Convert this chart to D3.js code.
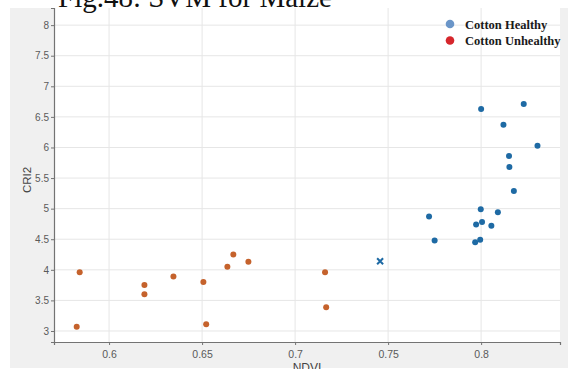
<!DOCTYPE html>
<html>
<head>
<meta charset="utf-8">
<script src="https://cdn.jsdelivr.net/npm/d3@7"></script>
<style>
  html, body { margin: 0; padding: 0; background: #ffffff; }
  svg { display: block; }
</style>
</head>
<body>
<svg id="chart" width="568" height="369"></svg>
<script>
// Cotton samples: NDVI vs CRI2
const healthyNDVI = [0.772, 0.775, 0.7968, 0.7973, 0.7995, 0.7998, 0.8, 0.8005, 0.8055, 0.809, 0.812, 0.815, 0.8152, 0.8176, 0.8229, 0.8303];
const healthyCRI2 = [4.87, 4.48, 4.45, 4.74, 4.49, 4.99, 6.63, 4.78, 4.72, 4.94, 6.37, 5.86, 5.68, 5.29, 6.71, 6.03];

const unhealthyNDVI = [0.5826, 0.5842, 0.619, 0.619, 0.6346, 0.6507, 0.6522, 0.6636, 0.6668, 0.6749, 0.7161, 0.7167];
const unhealthyCRI2 = [3.07, 3.96, 3.75, 3.60, 3.89, 3.80, 3.11, 4.05, 4.25, 4.13, 3.96, 3.39];

// Query sample marked with a cross
const queryNDVI = [0.7457];
const queryCRI2 = [4.14];

const xTicks = [0.6, 0.65, 0.7, 0.75, 0.8];
const yTicks = [3, 3.5, 4, 4.5, 5, 5.5, 6, 6.5, 7, 7.5, 8];
const legendLabels = ["Cotton Healthy", "Cotton Unhealthy"];
const titleText = "Fig.48: SVM for Maize";

const svg = d3.select("#chart");
const W = 568, H = 369;

// figure panel
svg.append("rect").attr("x", 10).attr("y", 8).attr("width", W - 10).attr("height", 360)
  .attr("fill", "#f0f0f0");

const plot = { left: 54, right: 560, top: 8, bottom: 342 };

const x = d3.scaleLinear().domain([0.5704, 0.8424]).range([plot.left, plot.right]);
const y = d3.scaleLinear().domain([2.82, 8.28]).range([plot.bottom, plot.top]);

// axes area
svg.append("rect").attr("x", plot.left).attr("y", plot.top)
  .attr("width", plot.right - plot.left).attr("height", plot.bottom - plot.top)
  .attr("fill", "#ffffff");

// grid
const grid = svg.append("g");
grid.selectAll("line.vx").data(xTicks).enter().append("line")
  .attr("x1", d => x(d)).attr("x2", d => x(d))
  .attr("y1", plot.top).attr("y2", plot.bottom)
  .attr("stroke", "#e6e6e6").attr("stroke-width", 1);
grid.selectAll("line.hy").data(yTicks).enter().append("line")
  .attr("x1", plot.left).attr("x2", plot.right)
  .attr("y1", d => y(d)).attr("y2", d => y(d))
  .attr("stroke", "#e6e6e6").attr("stroke-width", 1);

const tickFont = "Liberation Sans, Arial, sans-serif";

// x axis
const xAxis = d3.axisBottom(x).tickValues(xTicks).tickSize(3).tickPadding(6)
  .tickFormat(d3.format(""));
const gx = svg.append("g").attr("transform", `translate(0,${plot.bottom})`).call(xAxis);
gx.select(".domain").attr("stroke", "#737373").attr("stroke-width", 1.2);
gx.selectAll(".tick line").attr("stroke", "#737373");
gx.selectAll(".tick text").attr("fill", "#5a5a5a").attr("font-size", 10.5)
  .attr("font-family", tickFont);

// y axis
const yAxis = d3.axisLeft(y).tickValues(yTicks).tickSize(3).tickPadding(2)
  .tickFormat(d3.format(""));
const gy = svg.append("g").attr("transform", `translate(${plot.left},0)`).call(yAxis);
gy.select(".domain").attr("stroke", "#737373").attr("stroke-width", 1.2);
gy.selectAll(".tick line").attr("stroke", "#737373");
gy.selectAll(".tick text").attr("fill", "#5a5a5a").attr("font-size", 10)
  .attr("font-family", tickFont);

// axis labels
svg.append("text").attr("x", (plot.left + plot.right) / 2).attr("y", 372)
  .attr("text-anchor", "middle").attr("fill", "#444").attr("font-size", 12)
  .attr("font-family", tickFont).text("NDVI");
svg.append("text").attr("transform", `translate(31,${(plot.top + plot.bottom) / 2 + 5}) rotate(-90)`)
  .attr("text-anchor", "middle").attr("fill", "#444").attr("font-size", 11.5)
  .attr("font-family", tickFont).text("CRI2");

// points
const blue = "#1e6aa4", orange = "#c5622c";
svg.append("g").selectAll("circle").data(d3.zip(unhealthyNDVI, unhealthyCRI2)).enter()
  .append("circle").attr("cx", d => x(d[0])).attr("cy", d => y(d[1])).attr("r", 3)
  .attr("fill", orange);
svg.append("g").selectAll("circle").data(d3.zip(healthyNDVI, healthyCRI2)).enter()
  .append("circle").attr("cx", d => x(d[0])).attr("cy", d => y(d[1])).attr("r", 3)
  .attr("fill", blue);

// query cross
const cross = svg.append("g");
d3.zip(queryNDVI, queryCRI2).forEach(d => {
  const cx = x(d[0]), cy = y(d[1]), s = 3;
  cross.append("path")
    .attr("d", `M${cx - s},${cy - s}L${cx + s},${cy + s}M${cx - s},${cy + s}L${cx + s},${cy - s}`)
    .attr("stroke", blue).attr("stroke-width", 2).attr("fill", "none");
});

// legend
const legendColors = ["#6a95c8", "#d6262c"];
const lg = svg.append("g");
legendLabels.forEach((t, i) => {
  lg.append("circle").attr("cx", 450).attr("cy", 24 + i * 16.5).attr("r", 4.3)
    .attr("fill", legendColors[i]);
  lg.append("text").attr("x", 465).attr("y", 28.5 + i * 16.5)
    .attr("font-family", "Liberation Serif, Times New Roman, serif")
    .attr("font-weight", "bold").attr("font-size", 12.5).attr("fill", "#1a1a1a").text(t);
});

// caption above the figure
svg.append("rect").attr("x", 0).attr("y", 0).attr("width", W).attr("height", 8).attr("fill", "#ffffff");
svg.append("text").attr("x", 58).attr("y", 7)
  .attr("font-family", "Liberation Serif, Times New Roman, serif")
  .attr("font-size", 29).attr("fill", "#111").text(titleText);
</script>
</body>
</html>
